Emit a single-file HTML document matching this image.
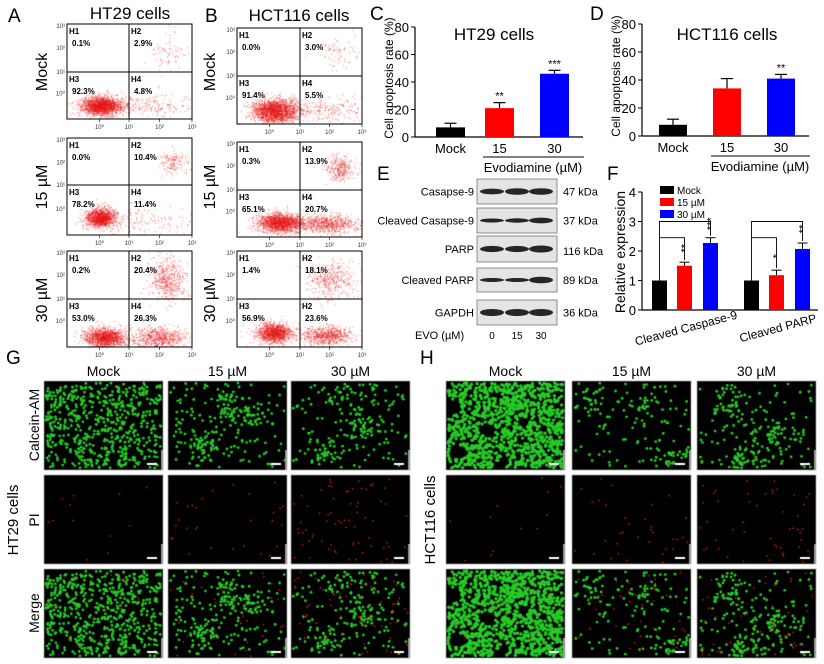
<!DOCTYPE html>
<html><head><meta charset="utf-8">
<style>
html,body{margin:0;padding:0;background:#fff;}
#wrap{position:relative;width:824px;height:664px;overflow:hidden;background:#fff;}
#cv,#fig{position:absolute;left:0;top:0;}
text{font-family:"Liberation Sans",sans-serif;}
</style></head>
<body>
<div id="wrap">
<canvas id="cv" width="824" height="664"></canvas>
<svg id="fig" width="824" height="664" xmlns="http://www.w3.org/2000/svg"></svg>
</div>
<script>
// ---------- chart data ----------
const cCategories = ["Mock", "15", "30"];
const cValues = [7, 21, 46];
const cErrors = [3, 4, 2.5];
const cStars = ["", "**", "***"];
const dValues = [8, 34, 41];
const dErrors = [4, 7, 3];
const dStars = ["", "", "**"];
const apoptosisTicks = [0, 20, 40, 60, 80];
const fGroups = ["Cleaved Caspase-9", "Cleaved PARP"];
const fMock = [1.0, 1.0];
const f15 = [1.5, 1.18];
const f30 = [2.27, 2.07];
const f15Err = [0.12, 0.17];
const f30Err = [0.18, 0.2];
const f15Stars = ["**", "*"];
const f30Stars = ["***", "**"];
const fTicks = [0, 1, 2, 3, 4];
const flowA = [["0.1%","2.9%","92.3%","4.8%"],["0.0%","10.4%","78.2%","11.4%"],["0.2%","20.4%","53.0%","26.3%"]];
const flowB = [["0.0%","3.0%","91.4%","5.5%"],["0.3%","13.9%","65.1%","20.7%"],["1.4%","18.1%","56.9%","23.6%"]];
const flowBLabels = [["H1","H2","H3","H4"],["H1","H2","H3","H4"],["H1","H2","H3","H2"]];
const blotLabels = ["Casapse-9","Cleaved Casapse-9","PARP","Cleaved PARP","GAPDH"];
const blotKda = ["47 kDa","37 kDa","116 kDa","89 kDa","36 kDa"];
const evoDoses = ["0","15","30"];

const NS='http://www.w3.org/2000/svg';
const svg=document.getElementById('fig');
const ctx=document.getElementById('cv').getContext('2d');
function mk(tag,attrs,parent){const e=document.createElementNS(NS,tag);for(const k in attrs)e.setAttribute(k,attrs[k]);(parent||svg).appendChild(e);return e;}
function T(s,x,y,size,anchor,parent,extra){const e=mk('text',Object.assign({x:x,y:y,'font-size':size,'text-anchor':anchor||'start',fill:'#000'},extra||{}),parent);e.textContent=s;return e;}
let seed=12345;
function rnd(){seed|=0;seed=seed+0x6D2B79F5|0;let t=Math.imul(seed^seed>>>15,1|seed);t=t+Math.imul(t^t>>>7,61|t)^t;return((t^t>>>14)>>>0)/4294967296;}
function gauss(){return Math.sqrt(-2*Math.log(rnd()+1e-9))*Math.cos(2*Math.PI*rnd());}

// ---------- panel letters ----------
[["A",8,22],["B",205,22],["C",370,20],["D",590,20],["E",377,180],["F",607,180],["G",6,364],["H",420,364]].forEach(p=>{
  const e=T(p[0],p[1],p[2],19,'start');
  
  
});

// ---------- flow cytometry ----------
function flow(x0,y0,w,h,dx,dy,pcts,labels,clusters,name){
  const g=mk('g',{});
  
  
  ctx.fillStyle='rgba(230,20,20,0.55)';
  clusters.forEach(c=>{for(let i=0;i<c.n;i++){const px=x0+w*(c.x+c.sx*gauss());const py=y0+h*(c.y+c.sy*gauss());if(px>x0&&px<x0+w&&py>y0&&py<y0+h)ctx.fillRect(px,py,1,1);}});
  mk('rect',{x:x0,y:y0,width:w,height:h,fill:'none',stroke:'#000','stroke-width':1},g);
  mk('line',{x1:dx,y1:y0,x2:dx,y2:y0+h,stroke:'#000','stroke-width':1},g);
  mk('line',{x1:x0,y1:dy,x2:x0+w,y2:dy,stroke:'#000','stroke-width':1},g);
  const xs=[x0+w*0.26,dx,x0+w*0.74,x0+w];
  ['10\u2070','10\u00B9','10\u00B2','10\u00B3'].forEach((s,i)=>{T(s,xs[i],y0+h+10,6,'middle',g,{fill:'#333'});mk('line',{x1:xs[i],y1:y0+h,x2:xs[i],y2:y0+h+3,stroke:'#000','stroke-width':0.6},g);});
  const ys=[y0+2,y0+h*0.25,dy,y0+h*0.73];
  ['10\u00B3','10\u00B2','10\u00B9','10\u2070'].forEach((s,i)=>{T(s,x0-2,ys[i]+2,6,'end',g,{fill:'#333'});});
  const pos=[[x0+2,y0+10],[dx+2,y0+10],[x0+2,dy+10],[dx+2,dy+10]];
  pos.forEach((p,i)=>{T(labels[i],p[0],p[1],8,'start',g,{'font-weight':'bold'});T(pcts[i],p[0]+3,p[1]+12,8,'start',g,{'font-weight':'bold'});});
}
const rowsA=[[24,95,72],[138,97,185],[251,96,299]];
const rowsB=[[28,96,76],[142,95,190],[251,96,299]];
const clA=[
 [{x:.27,y:.86,sx:.08,sy:.05,n:1800},{x:.6,y:.85,sx:.2,sy:.06,n:250},{x:.8,y:.3,sx:.07,sy:.1,n:80}],
 [{x:.27,y:.82,sx:.06,sy:.05,n:1300},{x:.65,y:.85,sx:.2,sy:.08,n:150},{x:.85,y:.25,sx:.06,sy:.06,n:150}],
 [{x:.3,y:.9,sx:.08,sy:.05,n:1400},{x:.72,y:.9,sx:.12,sy:.06,n:700},{x:.8,y:.3,sx:.07,sy:.12,n:500}]];
const clB=[
 [{x:.3,y:.86,sx:.09,sy:.06,n:1900},{x:.65,y:.85,sx:.2,sy:.07,n:300},{x:.8,y:.25,sx:.08,sy:.08,n:80}],
 [{x:.35,y:.85,sx:.09,sy:.05,n:1700},{x:.72,y:.86,sx:.12,sy:.05,n:700},{x:.82,y:.28,sx:.06,sy:.07,n:300}],
 [{x:.3,y:.85,sx:.07,sy:.05,n:1300},{x:.72,y:.88,sx:.1,sy:.05,n:700},{x:.75,y:.3,sx:.1,sy:.1,n:400}]];
for(let r=0;r<3;r++){
  flow(67,rowsA[r][0],125,rowsA[r][1],129,rowsA[r][2],flowA[r],["H1","H2","H3","H4"],clA[r],'flow-ht29-row'+(r+1));
  flow(237,rowsB[r][0],125,rowsB[r][1],300,rowsB[r][2],flowB[r],flowBLabels[r],clB[r],'flow-hct116-row'+(r+1));
}
const rowNames=["Mock","15 \u00B5M","30 \u00B5M"];
[72,187,300].forEach((cy,i)=>{
  [47,215].forEach((cx,j)=>{const e=T(rowNames[i],cx,cy,16,'middle',null,{transform:`rotate(-90 ${cx} ${cy})`});
  
  });
});
let t1=T("HT29 cells",130,19,17,'middle');


let t2=T("HCT116 cells",299,21,17,'middle');



// ---------- bar charts C / D ----------
function barChart(axisX,y0,y80,xs,ws,vals,errs,stars,title,tx,name){
  const g=mk('g',{});
  
  
  const yS=v=>y0-(y0-y80)*v/80;
  mk('line',{x1:axisX,y1:yS(80),x2:axisX,y2:y0,stroke:'#000','stroke-width':1.2},g);
  mk('line',{x1:axisX,y1:y0,x2:xs[2]+ws+14,y2:y0,stroke:'#000','stroke-width':1.2},g);
  apoptosisTicks.forEach(t=>{mk('line',{x1:axisX-4,y1:yS(t),x2:axisX,y2:yS(t),stroke:'#000','stroke-width':1},g);T(String(t),axisX-6,yS(t)+5,13,'end',g);});
  const cols=['#000','#f00','#00f'];
  vals.forEach((v,i)=>{
    const top=yS(v),et=yS(v+errs[i]),cx=xs[i]+ws/2;
    mk('line',{x1:cx,y1:top,x2:cx,y2:et,stroke:'#000','stroke-width':1.2},g);
    mk('line',{x1:cx-6,y1:et,x2:cx+6,y2:et,stroke:'#000','stroke-width':1.2},g);
    const b=mk('rect',{x:xs[i],y:top,width:ws,height:y0-top,fill:cols[i]},g);
    
    
    if(stars[i])T(stars[i],cx,et-3,11,'middle',g);
    T(cCategories[i],cx,y0+16,13,'middle',g);
  });
  mk('line',{x1:xs[1]-2,y1:y0+20,x2:xs[2]+ws+15,y2:y0+20,stroke:'#000','stroke-width':1},g);
  T("Evodiamine (\u00B5M)",(xs[1]+xs[2]+ws)/2+6,y0+35,13,'middle',g);
  T(title,tx,40,17,'middle',g);
  const ly=(y0+y80)/2-4, lx=axisX-22;
  T("Cell apoptosis rate (%)",lx,ly,12,'middle',g,{transform:`rotate(-90 ${lx} ${ly})`});
}
barChart(415,137,27,[436,485,540],29,cValues,cErrors,cStars,"HT29 cells",494,'chart-c-ht29-apoptosis');
barChart(642,136,24,[659,713,767],28,dValues,dErrors,dStars,"HCT116 cells",727,'chart-d-hct116-apoptosis');

// ---------- western blot E ----------
const rowsE=[[179,25],[208,25],[236,26],[268,24],[300,25]];
const bandW=[[1.3,1.5,1.5],[0.9,1.0,1.3],[1.4,1.4,1.6],[0.9,0.9,1.5],[1.6,1.6,1.6]];
const laneX=[492,517,541];
const eg=mk('g',{});


rowsE.forEach((r,i)=>{
  mk('rect',{x:477,y:r[0],width:80,height:r[1],fill:'#e4e4e4',stroke:'#777','stroke-width':0.8},eg);
  laneX.forEach((lx,j)=>{mk('ellipse',{cx:lx,cy:r[0]+r[1]/2,rx:12,ry:2.2*bandW[i][j],fill:'#111',opacity:0.9},eg);});
  T(blotLabels[i],474,r[0]+r[1]/2+4,11,'end',eg);
  T(blotKda[i],563,r[0]+r[1]/2+(i==2?6:4),11,'start',eg);
});
T("EVO (\u00B5M)",415,339,11,'start',eg);
evoDoses.forEach((d,i)=>T(d,laneX[i],339,10,'middle',eg));

// ---------- chart F ----------
const fg=mk('g',{});


const fy0=310,fy4=192,fAx=642;
const fY=v=>fy0-(fy0-fy4)*v/4;
mk('line',{x1:fAx,y1:fy4,x2:fAx,y2:fy0,stroke:'#000','stroke-width':1.2},fg);
mk('line',{x1:fAx,y1:fy0,x2:818,y2:fy0,stroke:'#000','stroke-width':1.2},fg);
fTicks.forEach(t=>{mk('line',{x1:fAx-4,y1:fY(t),x2:fAx,y2:fY(t),stroke:'#000'},fg);T(String(t),fAx-6,fY(t)+5,13,'end',fg);});
const gx=[652,744],bw=15,cols3=['#000','#f00','#00f'];
fGroups.forEach((gname,i)=>{
  const vals=[fMock[i],f15[i],f30[i]],errs=[0,f15Err[i],f30Err[i]],stars=["",f15Stars[i],f30Stars[i]];
  const offs=[0,25,51];
  vals.forEach((v,j)=>{
    const x=gx[i]+offs[j],cx=x+bw/2;
    if(errs[j]){mk('line',{x1:cx,y1:fY(v),x2:cx,y2:fY(v+errs[j]),stroke:'#000'},fg);mk('line',{x1:cx-5,y1:fY(v+errs[j]),x2:cx+5,y2:fY(v+errs[j]),stroke:'#000'},fg);}
    const b=mk('rect',{x:x,y:fY(v),width:bw,height:fy0-fY(v),fill:cols3[j]},fg);
    
    
    if(stars[j]){const sy=fY(v+errs[j])-14;T(stars[j],cx+4,sy,11,'middle',fg,{transform:`rotate(-90 ${cx+4} ${sy})`});}
  });
  const mx=gx[i]+bw/2, x15=gx[i]+25+bw/2, x30=gx[i]+51+bw/2;
  const yb2=fY(3.0);
  mk('polyline',{points:`${mx},${fY(1)} ${mx},${fY(2.45)} ${x15},${fY(2.45)} ${x15},${fY(f15[i]+f15Err[i])-2}`,fill:'none',stroke:'#000','stroke-width':0.9},fg);
  mk('polyline',{points:`${mx},${fY(2.45)} ${mx},${yb2} ${x30},${yb2} ${x30},${fY(f30[i]+f30Err[i])-2}`,fill:'none',stroke:'#000','stroke-width':0.9},fg);
  const lx=gx[i]+35, ly=fy0+22;
  T(gname,lx,ly,12,'middle',fg,{transform:`rotate(-15 ${lx} ${ly})`});
});
const lgN=["Mock","15 \u00B5M","30 \u00B5M"];
lgN.forEach((n,i)=>{const y=190+i*12;const r=mk('rect',{x:660,y:y-4,width:14,height:8,fill:cols3[i]},fg);


T(n,677,y+4,10,'start',fg);});
T("Relative expression",625,252,14,'middle',fg,{transform:'rotate(-90 625 252)'});

// ---------- microscopy G / H ----------
function micro(x,y,w,h,kind,density,name){
  ctx.fillStyle='#000';ctx.fillRect(x,y,w,h);
  const green=kind!=='pi', red=kind!=='calcein';
  if(green){ctx.fillStyle='#27cc27';
    for(let i=0;i<density.g;i++){let px,py;
      if(density.clust&&rnd()<0.5){const c=density.clust[Math.floor(rnd()*density.clust.length)];px=x+w*(c[0]+0.08*gauss());py=y+h*(c[1]+0.09*gauss());}
      else{px=x+rnd()*w;py=y+rnd()*h;}
      if(px<x+2||px>x+w-2||py<y+2||py>y+h-2)continue;
      if(density.gaps){let skip=false;for(const gp of density.gaps){const ddx=(px-x)/w-gp[0],ddy=(py-y)/h-gp[1];if(ddx*ddx+ddy*ddy<gp[2]*gp[2])skip=true;}if(skip)continue;}
      ctx.beginPath();ctx.arc(px,py,density.r||1.4,0,6.3);ctx.fill();}}
  if(red){ctx.fillStyle='#e01818';for(let i=0;i<density.red;i++){ctx.fillRect(x+2+rnd()*(w-4),y+2+rnd()*(h-4),1.5,1.5);}}
  ctx.fillStyle='#fff';ctx.fillRect(x+w-16,y+h-7,10,2);
  ctx.fillStyle='#999';ctx.fillRect(x+w-2,y+h-20,2,20);
  const g=mk('rect',{x:x,y:y,width:w,height:h,fill:'none',stroke:'#aaa','stroke-width':0.6});
  
  
}
const mRows=[381,475,569], mh=89;
const gCols=[44,168,291], hCols=[446,572,697], mw=119;
const kinds=['calcein','pi','merge'];
const gDens=[{g:650,red:12},{g:260,red:30,clust:[[.3,.7],[.7,.4],[.5,.3]]},{g:230,red:70,clust:[[.6,.5],[.3,.8],[.5,.2]]}];
const hDens=[{g:1300,red:12,r:1.7,gaps:[[.05,.3,.08],[.35,.55,.07],[.1,.8,.08],[.65,.45,.05],[.45,.95,.06]]},{g:180,red:35,clust:[[.6,.3],[.8,.9],[.2,.2]]},{g:240,red:50,clust:[[.3,.3],[.6,.6],[.4,.9]]}];
for(let c=0;c<3;c++)for(let r=0;r<3;r++){
  seed=100+c*7;
  micro(gCols[c],mRows[r],mw,mh,kinds[r],r==1?{g:0,red:gDens[c].red}:gDens[c],'ht29-image-'+kinds[r]+'-'+c);
  seed=300+c*7;
  micro(hCols[c],mRows[r],mw,mh,kinds[r],r==1?{g:0,red:hDens[c].red}:hDens[c],'hct116-image-'+kinds[r]+'-'+c);
}
const colNames=["Mock","15 \u00B5M","30 \u00B5M"];
colNames.forEach((n,i)=>{
  let a=T(n,gCols[i]+mw/2,376,14,'middle');
  
  
  let b=T(n,hCols[i]+mw/2,376,14,'middle');
  
  
});
[["Calcein-AM",425],["PI",520],["Merge",613]].forEach(p=>{
  const e=T(p[0],39,p[1],14,'middle',null,{transform:`rotate(-90 39 ${p[1]})`});
  
  
});
let h1=T("HT29 cells",18,520,15,'middle',null,{transform:'rotate(-90 18 520)'});


let h2=T("HCT116 cells",435,520,15,'middle',null,{transform:'rotate(-90 435 520)'});


</script>
</body></html>
